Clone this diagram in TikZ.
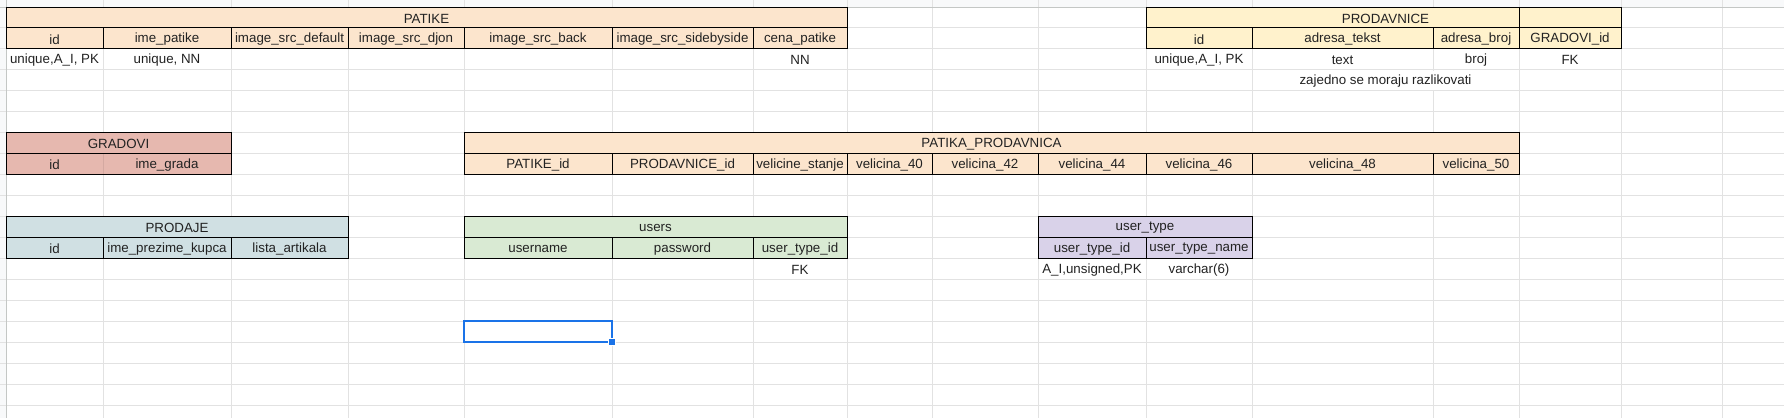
\documentclass[tikz,border=0pt]{standalone}
\usepackage{fontspec}
\setmainfont{Liberation Sans}
\usetikzlibrary{calc}

\definecolor{peach}{HTML}{FCE5CD}
\definecolor{cream}{HTML}{FFF2CC}
\definecolor{rose}{HTML}{E6B8AF}
\definecolor{steel}{HTML}{D0E0E3}
\definecolor{sage}{HTML}{D9EAD3}
\definecolor{lilac}{HTML}{D9D2E9}
\definecolor{grid}{HTML}{E2E2E2}
\definecolor{strip}{HTML}{F8F9FA}
\definecolor{stripline}{HTML}{C4C7C5}
\definecolor{ink}{HTML}{222222}
\definecolor{select}{HTML}{1A73E8}

% text centred in a (merged) cell: name, left column, right column, row, text
\newcommand{\sheetcell}[5]{\node[cell] (#1) at ($(c#2|-m#4)!0.5!(c#3|-m#4)$) {#5};}

\begin{document}
\begin{tikzpicture}[x=0.75pt, y=-0.75pt,
    cell/.style={font=\fontsize{10}{12}\selectfont, text=ink, inner sep=0pt, yshift=-0.75pt},
    tbl/.style={draw=black, line width=0.75pt},
    gridline/.style={draw=grid, line width=0.75pt}]

% Canvas
\fill[white] (0,0) rectangle (1784,418);
\useasboundingbox (0,0) rectangle (1784,418);

% Columns and rows of the sheet
\foreach \x [count=\i from 0] in {6,103,231,348,464,612,753,847,932,1038,1146,1252,1433,1519,1621,1722}
    \coordinate (c\i) at (\x,0);
\foreach \r in {0,...,20} {
    \coordinate (r\r) at (0,{7+20.95*\r});
    \coordinate (m\r) at (0,{7+20.95*\r+10.475});
}

% Header strips and grid
\fill[strip] (0,0) rectangle (1784,7);
\fill[strip] (0,0) rectangle (6,418);
\foreach \i in {1,...,15}
    \draw[gridline] (c\i) -- ++(0,418);
\foreach \r in {1,...,19}
    \draw[gridline] (r\r) -- ++(1784,0);
\draw[stripline, line width=0.75pt] (0,7) -- (1784,7) (6,0) -- (6,418);

% PATIKE
\fill[peach] (c0|-r0) rectangle (c7|-r2);
\draw[tbl] (c0|-r0) rectangle (c7|-r2) (c0|-r1) -- (c7|-r1);
\foreach \i in {1,...,6}
    \draw[tbl] (c\i|-r1) -- (c\i|-r2);
\sheetcell{patike}{0}{7}{0}{PATIKE}
\foreach \t [count=\i from 0, evaluate=\i as \j using int(\i+1)] in
    {id, ime\_patike, image\_src\_default, image\_src\_djon, image\_src\_back, image\_src\_sidebyside, cena\_patike}
    {\sheetcell{patike-\i}{\i}{\j}{1}{\t}}
\sheetcell{patike-id}{0}{1}{2}{unique,A\_I, PK}
\sheetcell{patike-ime}{1}{2}{2}{unique, NN}
\sheetcell{patike-cena}{6}{7}{2}{NN}

% PRODAVNICE
\fill[cream] (c10|-r0) rectangle (c14|-r2);
\draw[tbl] (c10|-r0) rectangle (c14|-r2) (c10|-r1) -- (c14|-r1) (c13|-r0) -- (c13|-r1);
\foreach \i in {11,12,13}
    \draw[tbl] (c\i|-r1) -- (c\i|-r2);
\sheetcell{prodavnice}{11}{13}{0}{PRODAVNICE}
\foreach \t [count=\i from 10, evaluate=\i as \j using int(\i+1)] in
    {id, adresa\_tekst, adresa\_broj, GRADOVI\_id}
    {\sheetcell{prodavnice-\i}{\i}{\j}{1}{\t}}
\sheetcell{prodavnice-id}{10}{11}{2}{unique,A\_I, PK}
\sheetcell{prodavnice-tekst}{11}{12}{2}{text}
\sheetcell{prodavnice-broj}{12}{13}{2}{broj}
\sheetcell{prodavnice-fk}{13}{14}{2}{FK}
\fill[white] ([shift={(1,1)}]c11|-r3) rectangle ([shift={(-1,-1)}]c13|-r4);
\sheetcell{prodavnice-note}{11}{13}{3}{zajedno se moraju razlikovati}

% GRADOVI
\fill[rose] (c0|-r6) rectangle (c2|-r8);
\draw[draw=rose!92!black, line width=0.75pt] (c1|-r7) -- (c1|-r8);
\draw[tbl] (c0|-r6) rectangle (c2|-r8) (c0|-r7) -- (c2|-r7);
\sheetcell{gradovi}{0}{2}{6}{GRADOVI}
\sheetcell{gradovi-0}{0}{1}{7}{id}
\sheetcell{gradovi-1}{1}{2}{7}{ime\_grada}

% PATIKA_PRODAVNICA
\fill[peach] (c4|-r6) rectangle (c13|-r8);
\draw[tbl] (c4|-r6) rectangle (c13|-r8) (c4|-r7) -- (c13|-r7);
\foreach \i in {5,...,12}
    \draw[tbl] (c\i|-r7) -- (c\i|-r8);
\sheetcell{veza}{4}{13}{6}{PATIKA\_PRODAVNICA}
\foreach \t [count=\i from 4, evaluate=\i as \j using int(\i+1)] in
    {PATIKE\_id, PRODAVNICE\_id, velicine\_stanje, velicina\_40, velicina\_42, velicina\_44, velicina\_46, velicina\_48, velicina\_50}
    {\sheetcell{veza-\i}{\i}{\j}{7}{\t}}

% PRODAJE
\fill[steel] (c0|-r10) rectangle (c3|-r12);
\draw[tbl] (c0|-r10) rectangle (c3|-r12) (c0|-r11) -- (c3|-r11);
\foreach \i in {1,2}
    \draw[tbl] (c\i|-r11) -- (c\i|-r12);
\sheetcell{prodaje}{0}{3}{10}{PRODAJE}
\foreach \t [count=\i from 0, evaluate=\i as \j using int(\i+1)] in
    {id, ime\_prezime\_kupca, lista\_artikala}
    {\sheetcell{prodaje-\i}{\i}{\j}{11}{\t}}

% users
\fill[sage] (c4|-r10) rectangle (c7|-r12);
\draw[tbl] (c4|-r10) rectangle (c7|-r12) (c4|-r11) -- (c7|-r11);
\foreach \i in {5,6}
    \draw[tbl] (c\i|-r11) -- (c\i|-r12);
\sheetcell{users}{4}{7}{10}{users}
\foreach \t [count=\i from 4, evaluate=\i as \j using int(\i+1)] in
    {username, password, user\_type\_id}
    {\sheetcell{users-\i}{\i}{\j}{11}{\t}}
\sheetcell{users-fk}{6}{7}{12}{FK}

% user_type
\fill[lilac] (c9|-r10) rectangle (c11|-r12);
\draw[tbl] (c9|-r10) rectangle (c11|-r12) (c9|-r11) -- (c11|-r11) (c10|-r11) -- (c10|-r12);
\sheetcell{usertype}{9}{11}{10}{user\_type}
\sheetcell{usertype-9}{9}{10}{11}{user\_type\_id}
\sheetcell{usertype-10}{10}{11}{11}{user\_type\_name}
\sheetcell{usertype-id}{9}{10}{12}{A\_I,unsigned,PK}
\sheetcell{usertype-name}{10}{11}{12}{varchar(6)}

% Selected cell with its fill handle
\draw[select, line width=1.5pt] (c4|-r15) rectangle (c5|-r16);
\coordinate (handle) at (c5|-r16);
\filldraw[fill=select, draw=white, line width=0.75pt]
    ([shift={(-3.5,-3.5)}]handle) rectangle ([shift={(3.5,3.5)}]handle);

\end{tikzpicture}
\end{document}
